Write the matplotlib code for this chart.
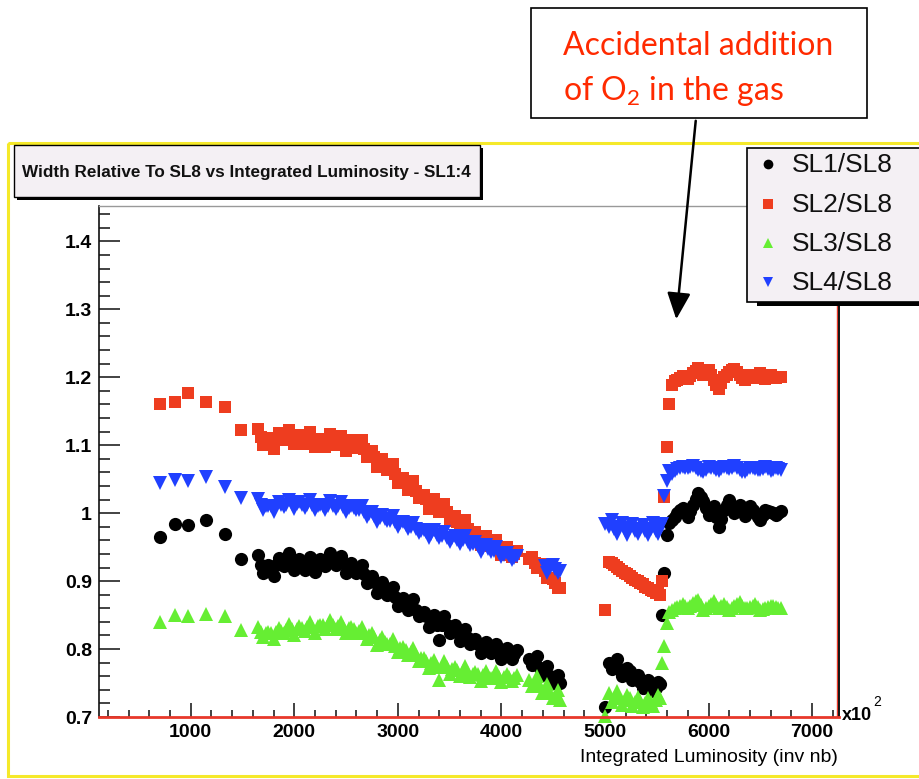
import numpy as np
import matplotlib
matplotlib.use("Agg")
import matplotlib.pyplot as plt
from matplotlib import font_manager
from matplotlib.patches import Rectangle
from matplotlib.ticker import FixedLocator, MultipleLocator

installed = {f.name for f in font_manager.fontManager.ttflist}
NARROW = "Liberation Sans Narrow" if "Liberation Sans Narrow" in installed else "Liberation Sans"

plt.rcParams["font.family"] = ["Liberation Sans", "DejaVu Sans"]
plt.rcParams["mathtext.fontset"] = "custom"
plt.rcParams["mathtext.rm"] = "Lato"

nan = np.nan

# integrated luminosity of each run (inv nb)
luminosity = [
    700, 850, 975, 1150, 1330, 1490,
    1650, 1700, 1750, 1800, 1850, 1900, 1950, 2000, 2050, 2100,
    2150, 2200, 2250, 2300, 2350, 2400, 2450, 2500, 2550, 2600,
    2650, 2700, 2750, 2800, 2850, 2900, 2950, 3000, 3050, 3100,
    3150, 3200, 3250, 3300, 3350, 3400, 3450, 3500, 3550, 3600,
    3650, 3700, 3750, 3800, 3850, 3900, 3950, 4000, 4050, 4100,
    4150,
    4270, 4320, 4370, 4420, 4470, 4520, 4570,
    5000, 5040, 5090, 5140, 5190, 5240, 5290, 5340, 5390, 5440, 5490, 5530,
    5555, 5575, 5595, 5615,
    5650, 5700, 5750, 5800, 5850, 5900, 5950, 6000, 6050, 6100,
    6150, 6200, 6250, 6300, 6350, 6400, 6450, 6500, 6550, 6600,
    6650, 6700,
    # runs in between
    1675, 1725, 1775, 1825, 1875, 1925, 1975, 2025, 2075, 2125,
    2175, 2225, 2275, 2325, 2375, 2425, 2475, 2525, 2575, 2625,
    2675, 2725, 2775, 2825, 2875, 2925, 2975, 3025, 3075, 3125,
    3175, 3225, 3275, 3325, 3375, 3425, 3475, 3525, 3575, 3625,
    3675, 3725, 3775, 3825, 3875, 3925, 3975, 4025, 4075, 4125,
    4295, 4345, 4395, 4445, 4495, 4545,
    5065, 5115, 5165, 5215, 5265, 5315, 5365, 5415, 5465, 5510,
    5675, 5725, 5775, 5825, 5875, 5925, 5975, 6025, 6075, 6125,
    6175, 6225, 6275, 6325, 6375, 6425, 6475, 6525, 6575, 6625,
    6675,
]

sl1 = [
    0.965, 0.984, 0.983, 0.990, 0.970, 0.933,
    0.938, 0.912, 0.924, 0.908, 0.934, 0.922, 0.942, 0.917, 0.932, 0.917,
    0.936, 0.913, 0.932, 0.922, 0.941, 0.923, 0.937, 0.912, 0.927, 0.912,
    0.924, 0.897, 0.908, 0.883, 0.898, 0.880, 0.891, 0.864, 0.875, 0.857,
    0.873, 0.848, 0.855, 0.833, 0.850, 0.814, 0.849, 0.823, 0.835, 0.812,
    0.830, 0.807, 0.815, 0.794, 0.811, 0.794, 0.808, 0.786, 0.801, 0.785,
    0.798,
    0.786, 0.780, 0.772, 0.766, 0.760, 0.755, 0.750,
    0.715, 0.780, 0.775, 0.770, 0.766, 0.768, 0.760, 0.752, 0.748, 0.744, 0.742, 0.748,
    0.850, 0.912, 0.968, 0.985,
    0.990, 1.000, 1.008, 0.995, 1.012, 1.030, 1.018, 0.998, 1.010, 0.980,
    1.005, 1.020, 1.000, 1.012, 0.996, 1.010, 1.000, 0.990, 1.005, 1.002,
    0.998, 1.003,
    0.924, 0.921, 0.920, 0.923, 0.926, 0.928, 0.928, 0.927, 0.925, 0.924,
    0.924, 0.927, 0.930, 0.930, 0.929, 0.928, 0.926, 0.923, 0.920, 0.915,
    0.910, 0.904, 0.898, 0.892, 0.886, 0.881, 0.877, 0.872, 0.868, 0.863,
    0.858, 0.853, 0.848, 0.843, 0.836, 0.835, 0.836, 0.831, 0.825, 0.820,
    0.816, 0.812, 0.808, 0.804, 0.800, 0.798, 0.797, 0.795, 0.794, 0.792,
    0.776, 0.790, 0.762, 0.775, 0.750, 0.762,
    0.770, 0.785, 0.760, 0.772, 0.755, 0.762, 0.742, 0.755, 0.738, 0.752,
    0.995, 1.004, 1.001, 1.003, 1.021, 1.024, 1.008, 1.004, 0.995, 0.992,
    1.012, 1.010, 1.006, 1.004, 1.003, 1.005, 0.995, 0.997, 1.003, 1.000,
    1.000,
]

sl2 = [
    1.161, 1.164, 1.177, 1.164, 1.156, 1.122,
    1.124, 1.101, 1.110, 1.094, 1.118, 1.108, 1.123, 1.102, 1.115, 1.102,
    1.120, 1.097, 1.109, 1.098, 1.116, 1.100, 1.114, 1.092, 1.107, 1.096,
    1.107, 1.083, 1.091, 1.068, 1.080, 1.063, 1.072, 1.044, 1.052, 1.034,
    1.047, 1.023, 1.027, 1.006, 1.021, 1.001, 1.014, 0.988, 0.996, 0.975,
    0.990, 0.968, 0.972, 0.953, 0.967, 0.951, 0.961, 0.939, 0.950, 0.935,
    0.945,
    0.932, 0.927, 0.922, 0.915, 0.905, 0.897, 0.890,
    0.857, 0.928, 0.924, 0.918, 0.912, 0.907, 0.902, 0.897, 0.892, 0.887, 0.883, 0.880,
    0.900, 1.024, 1.097, 1.160,
    1.188, 1.196, 1.202, 1.198, 1.206, 1.213, 1.204, 1.210, 1.196, 1.182,
    1.200, 1.208, 1.212, 1.203, 1.196, 1.204, 1.199, 1.206, 1.197, 1.203,
    1.199, 1.201,
    1.112, 1.108, 1.107, 1.108, 1.111, 1.112, 1.112, 1.111, 1.110, 1.109,
    1.108, 1.107, 1.106, 1.106, 1.106, 1.105, 1.104, 1.103, 1.102, 1.099,
    1.094, 1.088, 1.082, 1.075, 1.069, 1.063, 1.057, 1.051, 1.045, 1.039,
    1.033, 1.027, 1.021, 1.015, 1.009, 1.005, 1.001, 0.994, 0.987, 0.981,
    0.976, 0.971, 0.966, 0.961, 0.957, 0.953, 0.950, 0.946, 0.943, 0.940,
    0.935, 0.920, 0.925, 0.905, 0.903, 0.890,
    0.926, 0.921, 0.915, 0.910, 0.905, 0.900, 0.895, 0.890, 0.885, 0.882,
    1.194, 1.199, 1.200, 1.202, 1.209, 1.208, 1.207, 1.203, 1.189, 1.191,
    1.204, 1.210, 1.207, 1.199, 1.200, 1.201, 1.202, 1.201, 1.200, 1.201,
    1.200,
]

sl3 = [
    0.840, 0.850, 0.849, 0.851, 0.849, 0.828,
    0.833, 0.817, 0.825, 0.815, 0.831, 0.824, 0.837, 0.821, 0.834, 0.826,
    0.840, 0.824, 0.835, 0.829, 0.843, 0.830, 0.840, 0.823, 0.833, 0.824,
    0.833, 0.815, 0.823, 0.806, 0.818, 0.807, 0.815, 0.795, 0.803, 0.791,
    0.801, 0.783, 0.787, 0.772, 0.784, 0.754, 0.783, 0.764, 0.774, 0.761,
    0.775, 0.759, 0.766, 0.753, 0.767, 0.757, 0.767, 0.752, 0.763, 0.753,
    0.762,
    0.755, 0.750, 0.745, 0.740, 0.735, 0.730, 0.725,
    0.702, 0.735, 0.728, 0.730, 0.725, 0.728, 0.722, 0.724, 0.720, 0.722, 0.725, 0.728,
    0.779, 0.805, 0.838, 0.855,
    0.858, 0.862, 0.866, 0.860, 0.868, 0.872, 0.858, 0.864, 0.870, 0.860,
    0.866, 0.858, 0.864, 0.869, 0.860, 0.862, 0.866, 0.858, 0.860, 0.864,
    0.862, 0.860,
    0.825, 0.824, 0.824, 0.825, 0.826, 0.828, 0.829, 0.830, 0.831, 0.832,
    0.833, 0.834, 0.835, 0.835, 0.835, 0.834, 0.833, 0.831, 0.829, 0.827,
    0.824, 0.820, 0.817, 0.814, 0.811, 0.808, 0.805, 0.802, 0.799, 0.795,
    0.791, 0.787, 0.783, 0.779, 0.774, 0.773, 0.774, 0.771, 0.769, 0.767,
    0.765, 0.764, 0.763, 0.762, 0.761, 0.760, 0.759, 0.759, 0.759, 0.758,
    0.745, 0.760, 0.735, 0.748, 0.728, 0.740,
    0.722, 0.738, 0.718, 0.733, 0.716, 0.730, 0.715, 0.728, 0.716, 0.732,
    0.860, 0.864, 0.863, 0.864, 0.870, 0.865, 0.861, 0.867, 0.865, 0.863,
    0.862, 0.861, 0.866, 0.864, 0.861, 0.864, 0.862, 0.859, 0.862, 0.863,
    0.861,
]

sl4 = [
    1.044, 1.049, 1.047, 1.053, 1.039, 1.022,
    1.021, 1.005, 1.011, 1.002, 1.016, 1.009, 1.020, 1.006, 1.016, 1.007,
    1.019, 1.004, 1.012, 1.005, 1.018, 1.006, 1.016, 1.001, 1.011, 1.004,
    1.011, 0.995, 1.002, 0.987, 0.997, 0.988, 0.996, 0.979, 0.987, 0.976,
    0.986, 0.971, 0.975, 0.963, 0.975, 0.964, 0.972, 0.957, 0.966, 0.955,
    0.967, 0.953, 0.957, 0.943, 0.953, 0.943, 0.950, 0.935, 0.941, 0.931,
    0.937,
    nan, nan, nan, 0.922, 0.920, 0.918, 0.915,
    0.984, 0.980, 0.976, 0.979, 0.975, 0.978, 0.974, 0.977, 0.973, 0.976, 0.974, 0.978,
    0.984, 1.025, 1.048, 1.062,
    1.058, 1.065, 1.068, 1.066, 1.070, 1.064, 1.060, 1.068, 1.066, 1.062,
    1.068, 1.065, 1.070, 1.063, 1.060, 1.067, 1.065, 1.063, 1.068, 1.062,
    1.066, 1.064,
    1.012, 1.010, 1.010, 1.011, 1.012, 1.012, 1.013, 1.013, 1.012, 1.012,
    1.012, 1.011, 1.011, 1.011, 1.010, 1.010, 1.009, 1.008, 1.007, 1.005,
    1.002, 0.999, 0.996, 0.993, 0.991, 0.989, 0.987, 0.985, 0.983, 0.980,
    0.977, 0.974, 0.972, 0.970, 0.968, 0.966, 0.964, 0.963, 0.961, 0.960,
    0.958, 0.955, 0.952, 0.949, 0.947, 0.944, 0.942, 0.939, 0.937, 0.934,
    nan, nan, nan, 0.912, 0.924, 0.912,
    0.990, 0.970, 0.985, 0.968, 0.984, 0.969, 0.983, 0.968, 0.985, 0.970,
    1.062, 1.066, 1.067, 1.068, 1.067, 1.062, 1.064, 1.067, 1.064, 1.065,
    1.066, 1.067, 1.066, 1.061, 1.063, 1.066, 1.064, 1.065, 1.065, 1.064,
    1.065,
]

series_labels = ["SL1/SL8", "SL2/SL8", "SL3/SL8", "SL4/SL8"]
series_colors = ["black", "#ee3d1f", "#66ee33", "#2040ff"]
series_markers = ["o", "s", "^", "v"]
series_sizes = [9.5, 8.5, 9.5, 9.5]

y_ticks = [0.7, 0.8, 0.9, 1.0, 1.1, 1.2, 1.3, 1.4]
y_tick_labels = ["0.7", "0.8", "0.9", "1", "1.1", "1.2", "1.3", "1.4"]
x_ticks = [1000, 2000, 3000, 4000, 5000, 6000, 7000]

W, H = 920, 779
fig = plt.figure(figsize=(W / 100, H / 100), dpi=100)
ax = fig.add_axes([99 / W, 1 - 717 / H, (839 - 99) / W, (717 - 206) / H])

for ys, c, m, s in zip([sl1, sl2, sl3, sl4], series_colors, series_markers, series_sizes):
    ax.plot(luminosity, ys, linestyle="none", marker=m, color=c,
            markersize=s, markeredgewidth=0, clip_on=False)

ax.set_xlim(115, 7260)
ax.set_ylim(0.7, 1.452)
ax.xaxis.set_major_locator(FixedLocator(x_ticks))
ax.xaxis.set_minor_locator(MultipleLocator(200))
ax.yaxis.set_major_locator(FixedLocator(y_ticks))
ax.yaxis.set_minor_locator(MultipleLocator(0.02))
ax.set_yticklabels(y_tick_labels)
ax.tick_params(which="both", direction="in", top=False, right=False, color="#222222", width=1.2)
ax.tick_params(axis="x", which="major", length=10, pad=5)
ax.tick_params(axis="x", which="minor", length=5)
ax.tick_params(axis="y", which="major", length=15, pad=5)
ax.tick_params(axis="y", which="minor", length=8)
for lbl in ax.get_xticklabels() + ax.get_yticklabels():
    lbl.set_fontfamily(NARROW)
    lbl.set_fontweight("bold")
    lbl.set_fontsize(14)

ax.spines["left"].set_color("#111111")
ax.spines["left"].set_linewidth(1.2)
ax.spines["bottom"].set_color("#e8382a")
ax.spines["bottom"].set_linewidth(2)
ax.spines["top"].set_color("#999999")
ax.spines["top"].set_linewidth(1)
ax.spines["right"].set_color("#111111")
ax.spines["right"].set_linewidth(1.4)
ax.axvline(7245, color="#e8382a", lw=1)

# decorations drawn in pixel coordinates on a transparent overlay
deco = fig.add_axes([0, 0, 1, 1], zorder=5)
deco.set_xlim(0, W)
deco.set_ylim(H, 0)
deco.axis("off")

deco.add_patch(Rectangle((8, 143), 940, 633, fill=False, edgecolor="#f5e92a", lw=2.2))

# histogram title box with shadow
deco.add_patch(Rectangle((17, 148), 466, 52, facecolor="black", edgecolor="none"))
deco.add_patch(Rectangle((14, 145), 466, 52, facecolor="#f4f0f4", edgecolor="black", lw=1))
deco.text(246, 172, "Width Relative To SL8 vs Integrated Luminosity - SL1:4",
          ha="center", va="center", fontsize=12.3, fontweight="bold", family=NARROW, color="#111111")

# legend box with shadow
deco.add_patch(Rectangle((757, 152), 200, 154, facecolor="black", edgecolor="none"))
deco.add_patch(Rectangle((747, 148), 200, 154, facecolor="#f4f0f4", edgecolor="black", lw=1.2))
legend_rows = [164, 204, 243, 282]
legend_sizes = [7, 7.5, 6.5, 7]
for row, lab, c, m, s in zip(legend_rows, series_labels, series_colors, series_markers, legend_sizes):
    deco.plot([768], [row], marker=m, color=c, markersize=s, markeredgewidth=0)
    deco.text(792, row + 1, lab, ha="left", va="center", fontsize=19, color="#111111")

# annotation
deco.add_patch(Rectangle((531, 8), 336, 110, facecolor="white", edgecolor="black", lw=1.2))
deco.text(563, 55, "Accidental addition", ha="left", va="baseline",
          fontsize=23, family="Lato", color="#ff2a00")
deco.text(563, 100, r"of O$_{\mathrm{2}}$ in the gas", ha="left", va="baseline",
          fontsize=23, family="Lato", color="#ff2a00")
deco.annotate("", xy=(676, 322), xytext=(696, 118),
              arrowprops=dict(arrowstyle="-|>,head_length=0.9,head_width=0.4",
                              color="black", lw=1.8, mutation_scale=18))

deco.text(842, 716, "x10", ha="left", va="center", fontsize=13, fontweight="bold", family=NARROW)
deco.text(873, 702, "2", ha="left", va="center", fontsize=10, family=NARROW)
deco.text(838, 757, "Integrated Luminosity (inv nb)", ha="right", va="center", fontsize=14)

fig.savefig("out.png", dpi=100)
